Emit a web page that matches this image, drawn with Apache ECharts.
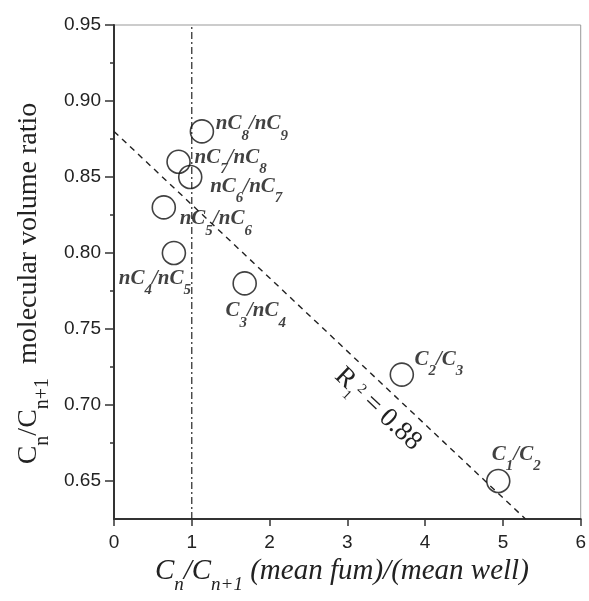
<!DOCTYPE html>
<html>
<head>
<meta charset="utf-8">
<script src="https://cdn.jsdelivr.net/npm/echarts@6/dist/echarts.min.js"></script>
<style>
  html, body { margin: 0; padding: 0; background: #fff; }
  #chart { width: 589px; height: 601px; }
</style>
</head>
<body>
<div id="chart"></div>
<script>
// Carbon-number pairs and their measured ratios
const pairNames = ['C1/C2', 'C2/C3', 'C3/nC4', 'nC4/nC5', 'nC5/nC6', 'nC6/nC7', 'nC7/nC8', 'nC8/nC9'];
const fumWellRatio = [4.94, 3.70, 1.68, 0.77, 0.64, 0.98, 0.83, 1.13];
const volumeRatio = [0.65, 0.72, 0.78, 0.80, 0.83, 0.85, 0.86, 0.88];

// Linear fit end points and the reference line at x = 1
const fitLine = [[0, 0.88], [5.29, 0.625]];
const unityLine = [[1, 0.625], [1, 0.95]];
const fitText = '0.88';

// Axis ticks
const xTicks = [0, 1, 2, 3, 4, 5, 6];
const yTicks = [0.65, 0.70, 0.75, 0.80, 0.85, 0.90, 0.95];
const yMinorTicks = [0.675, 0.725, 0.775, 0.825, 0.875, 0.925];

// Label placement (pixel offset of each label box centre from its marker)
const labelOffsets = [[18, -26], [37, -15], [11, 28], [-19, 26], [52, 12], [56, 10], [52, -4], [50, -7]];
const fitLabelAnchor = [3.39, 0.697];

const SERIF = '"Liberation Serif", "Times New Roman", serif';
const SANS = '"Liberation Sans", Arial, sans-serif';

// turn "nC8/nC9" into rich text with subscript digits
function toRich(name) {
  return name.split(/(\d+)/).filter(s => s.length).map(s => /^\d+$/.test(s) ? '{s|' + s + '}' : '{m|' + s + '}').join('');
}

const pointRich = {
  m: { fontFamily: SERIF, fontSize: 21, fontWeight: 'bold', fontStyle: 'italic', color: '#111', lineHeight: 22, verticalAlign: 'top' },
  s: { fontFamily: SERIF, fontSize: 15, fontWeight: 'bold', fontStyle: 'italic', color: '#111', lineHeight: 15, verticalAlign: 'top', padding: [15, 0, 0, 0] }
};

const chart = echarts.init(document.getElementById('chart'), null, { renderer: 'canvas' });

const points = pairNames.map((name, i) => ({
  value: [fumWellRatio[i], volumeRatio[i]],
  label: {
    show: true,
    position: 'inside',
    offset: labelOffsets[i],
    formatter: toRich(name),
    rich: pointRich
  }
}));

const option = {
  animation: false,
  backgroundColor: '#fff',
  grid: {
    left: 114, right: 6, top: 25, bottom: 82,
    show: true, borderColor: '#999', borderWidth: 1, backgroundColor: 'transparent'
  },
  xAxis: {
    type: 'value',
    min: xTicks[0], max: xTicks[xTicks.length - 1], interval: 1,
    axisLine: { show: true, onZero: false, lineStyle: { color: '#333', width: 2 } },
    axisTick: { show: true, length: 7, lineStyle: { color: '#333', width: 1.5 } },
    axisLabel: { color: '#222', fontFamily: SANS, fontSize: 19, margin: 14 },
    splitLine: { show: false },
    name: '{i|C}{s|n}{i|/C}{s|n+1}{i| (mean fum)/(mean well)}',
    nameLocation: 'middle',
    nameGap: 35,
    nameTextStyle: {
      padding: [0, 11, 0, 0],
      rich: {
        i: { fontFamily: SERIF, fontStyle: 'italic', fontSize: 29, color: '#222', lineHeight: 30, verticalAlign: 'top' },
        s: { fontFamily: SERIF, fontStyle: 'italic', fontSize: 19, color: '#222', lineHeight: 19, verticalAlign: 'top', padding: [19, 0, 0, 0] }
      }
    }
  },
  yAxis: [
    {
      type: 'value',
      min: 0.625, max: 0.95,
      axisLine: { show: true, onZero: false, lineStyle: { color: '#333', width: 2 } },
      axisTick: { show: true, length: 9, customValues: yTicks, lineStyle: { color: '#333', width: 1.5 } },
      axisLabel: {
        color: '#222', fontFamily: SANS, fontSize: 19, margin: 13,
        customValues: yTicks,
        formatter: v => v.toFixed(2)
      },
      splitLine: { show: false },
      name: '{r|C}{s|n}{r|/C}{s|n+1}{r|  molecular volume ratio}',
      nameLocation: 'middle',
      nameGap: 58,
      nameTextStyle: {
        padding: [0, 23, 0, 0],
        rich: {
          r: { fontFamily: SERIF, fontSize: 28, color: '#222', lineHeight: 30, verticalAlign: 'top' },
          s: { fontFamily: SERIF, fontSize: 20, color: '#222', lineHeight: 20, verticalAlign: 'top', padding: [18, 0, 0, 0] }
        }
      }
    },
    {
      // minor ticks only
      type: 'value',
      min: 0.625, max: 0.95,
      position: 'left',
      axisLine: { show: false },
      axisTick: { show: true, length: 4, customValues: yMinorTicks, lineStyle: { color: '#333', width: 1.5 } },
      axisLabel: { show: false },
      splitLine: { show: false }
    }
  ],
  series: [
    {
      name: 'fit',
      type: 'line',
      data: fitLine,
      symbol: 'none',
      silent: true,
      lineStyle: { color: '#222', width: 1.4, type: [6, 5] },
      z: 2
    },
    {
      name: 'unity',
      type: 'line',
      data: unityLine,
      symbol: 'none',
      silent: true,
      lineStyle: { color: '#222', width: 1.2, type: [7, 3, 2, 3] },
      z: 2
    },
    {
      name: 'pairs',
      type: 'scatter',
      data: points,
      symbol: 'circle',
      symbolSize: 23,
      itemStyle: { color: 'rgba(0,0,0,0)', borderColor: '#111', borderWidth: 1.6 },
      z: 3
    }
  ]
};

chart.setOption(option);

// R² annotation laid along the fitted line
const p0 = chart.convertToPixel({ gridIndex: 0 }, fitLine[0]);
const p1 = chart.convertToPixel({ gridIndex: 0 }, fitLine[1]);
const angle = Math.atan2(p1[1] - p0[1], p1[0] - p0[0]);
const anchor = chart.convertToPixel({ gridIndex: 0 }, fitLabelAnchor);

chart.setOption({
  graphic: [{
    type: 'text',
    x: anchor[0],
    y: anchor[1],
    rotation: -angle,
    z: 10,
    style: {
      text: '{m|R}{s|1}{p|2}{m| = ' + fitText + '}',
      align: 'center',
      verticalAlign: 'middle',
      rich: {
        m: { fontFamily: SERIF, fontSize: 27, fill: '#222', lineHeight: 28, verticalAlign: 'top' },
        s: { fontFamily: SERIF, fontSize: 14, fill: '#222', lineHeight: 14, verticalAlign: 'top', padding: [18, 0, 0, 0] },
        p: { fontFamily: SERIF, fontSize: 14, fill: '#222', lineHeight: 14, verticalAlign: 'top', padding: [3, 0, 0, 0] }
      }
    }
  }]
});
</script>
</body>
</html>
